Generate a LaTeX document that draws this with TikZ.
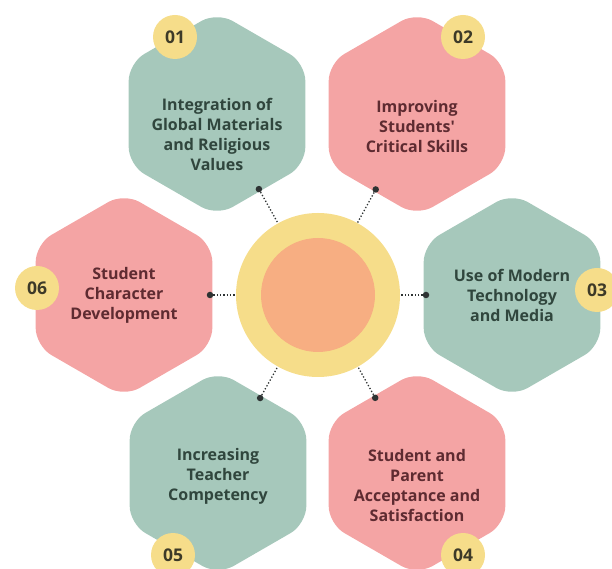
\documentclass[tikz,border=0pt]{standalone}
\usepackage{fontspec}
\setmainfont{Open Sans}
\usetikzlibrary{shapes.geometric,calc}
\definecolor{sage}{HTML}{A6C8BB}
\definecolor{sagetext}{HTML}{30463D}
\definecolor{rose}{HTML}{F4A4A4}
\definecolor{rosetext}{HTML}{5E2B31}
\definecolor{sun}{HTML}{F6DD8A}
\definecolor{peach}{HTML}{F7AE82}
\definecolor{numtext}{HTML}{3D3A28}
\definecolor{pindark}{HTML}{2E3333}

\begin{document}
\begin{tikzpicture}[x=1pt,y=1pt,
        hexa/.style={regular polygon,regular polygon sides=6,shape border rotate=30,
                     minimum size=204pt,inner sep=0pt,rounded corners=18pt},
        greenhex/.style={hexa,fill=sage},
        pinkhex/.style={hexa,fill=rose},
        caption/.style={align=center,font=\bfseries\fontsize{16}{20}\selectfont},
        greentext/.style={caption,text=sagetext},
        pinktext/.style={caption,text=rosetext},
        badge/.style={circle,fill=sun,minimum size=44pt,inner sep=0pt,
                      font=\bfseries\fontsize{17.5}{17.5}\selectfont,text=numtext},
        pin/.style={circle,fill=pindark,minimum size=6.5pt,inner sep=0pt},
        link/.style={pindark,line width=1.3pt,dotted}]
            \useasboundingbox (0,0) rectangle (612,569);
            \node [greenhex] (h1) at (217,455) {};
            \node [pinkhex]  (h2) at (417,455) {};
            \node [greenhex] (h3) at (512,274) {};
            \node [pinkhex]  (h4) at (417,96) {};
            \node [greenhex] (h5) at (218,96) {};
            \node [pinkhex]  (h6) at (124,274) {};
            \node [greentext] (t1) at ($(h1)+(0,-20)$) {Integration of\\Global Materials\\and Religious\\Values};
            \node [pinktext]  (t2) at ($(h2)+(0,-13)$) {Improving\\Students\textquotesingle\\Critical Skills};
            \node [greentext] (t3) at ($(h3)+(0,0)$) {Use of Modern\\Technology\\and Media};
            \node [pinktext]  (t4) at ($(h4)+(0,-13)$) {Student and\\Parent\\Acceptance and\\Satisfaction};
            \node [greentext] (t5) at ($(h5)+(0,-3)$) {Increasing\\Teacher\\Competency};
            \node [pinktext]  (t6) at ($(h6)+(0,0)$) {Student\\Character\\Development};
            \node [circle,fill=sun,minimum size=164pt,inner sep=0pt] (hub) at (318,274) {};
            \node [circle,fill=peach,minimum size=114pt,inner sep=0pt] (core) at (hub) {};
            \node [badge] (n1) at ($(h1)+(-42,77)$) {01};
            \node [badge] (n2) at ($(h2)+(46,77)$) {02};
            \node [badge] (n3) at ($(h3)+(85,5)$) {03};
            \node [badge] (n4) at ($(h4)+(46,-82)$) {04};
            \node [badge] (n5) at ($(h5)+(-45,-82)$) {05};
            \node [badge] (n6) at ($(h6)+(-87,7)$) {06};
            \foreach \i in {1,...,6} {
                \node [pin] (p\i) at ($(h\i)!86pt!(hub)$) {};
                \draw [link] (p\i) -- (hub);
            }
        \end{tikzpicture}
\end{document}
